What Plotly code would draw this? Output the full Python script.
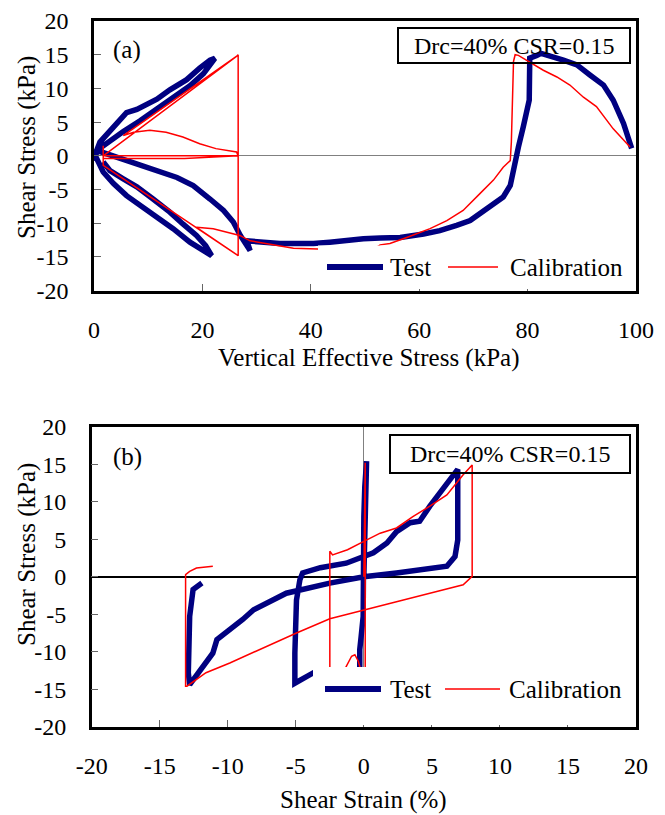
import plotly.graph_objects as go

W, H = 665, 815

# ---------------- data: panel (a) stress path ----------------
a_test_sv = [99.2, 97.7, 95.8, 94.0, 91.5, 89.1, 86.6, 84.1, 82.5, 81.7, 80.4, 80.3, 79.8, 79.2, 78.3,
             77.7, 77.2, 76.8, 75.5, 73.7, 71.8, 69.4, 66.9, 63.8, 60.8, 56.5, 52.8, 49.7, 43.5,
             40.5, 34.3, 30.5, 28.2, 28.8, 27.9, 27.0, 25.7, 23.9, 21.4, 18.3, 15.3, 11.6, 8.5,
             5.4, 2.3, 0.5,
             1.1, 2.95, 5.4, 6.0, 7.9, 9.7, 11.6, 14.0, 17.1, 19.5, 21.4, 22.3,
             21.4, 20.2, 17.7, 14.6, 11.6, 8.5, 5.4, 2.95, 1.4, 0.5, 0.2,
             0.5, 1.7, 3.6, 6.0, 9.1, 11.6, 14.6, 17.7, 20.2, 21.7,
             20.6, 18.9, 16.4, 14.0, 10.9, 7.9, 5.4, 2.95, 1.7]
a_test_tau = [1.1, 4.8, 8.25, 10.5, 12.0, 13.5, 14.2, 14.9, 15.2, 14.9, 14.5, 8.25, 6.8, 4.3, 1.3,
              -1.2, -2.6, -4.4, -6.1, -7.1, -8.4, -9.6, -10.3, -11.1, -11.6, -12.1, -12.2, -12.3, -12.8,
              -13.0, -13.0, -12.7, -12.6, -14.05, -13.05, -11.8, -9.8, -8.1, -6.4, -4.4, -3.2, -2.2, -1.4,
              -0.7, 0.3, 0.8,
              2.05, 3.6, 5.9, 6.4, 6.9, 7.6, 8.4, 9.8, 11.3, 13.0, 14.2, 14.45,
              13.5, 12.2, 10.4, 8.6, 6.9, 5.2, 3.6, 2.3, 1.5, 0.8, -0.7,
              -0.4, -2.4, -4.1, -5.9, -7.6, -9.1, -10.8, -12.8, -14.05, -14.8,
              -13.3, -11.8, -10.1, -8.35, -6.4, -4.6, -3.4, -2.2, -0.9]

a_cal_sv = [98.9, 95.8, 92.7, 90.3, 87.8, 85.4, 82.9, 80.4, 78.3, 77.7, 77.4, 77.0, 76.8, 75.5,
            73.7, 71.2, 68.1, 65.1, 62.0, 57.7, 54.6, 52.8, 52.0, 47.0, 41.3, 36.8, 32.5, 28.8,
            26.9, 22.0, 18.9, 26.6, 26.6, 26.3, 22.5, 19.5, 16.4, 13.3, 10.3, 7.3, 5.4,
            26.6, 26.6, 1.7, 1.7, 1.7, 26.6, 26.6, 16.7, 1.7, 1.7, 26.6, 26.6, 1.7]
a_cal_tau = [1.3, 4.0, 7.3, 8.7, 10.5, 11.7, 12.7, 13.9, 14.9, 15.0, 14.0, 2.0, -0.7, -1.7,
             -3.6, -5.6, -8.1, -9.6, -10.8, -12.1, -13.0, -13.2, -13.6, -13.7, -13.8, -13.7, -13.05, -12.6,
             -11.8, -10.8, -10.6, -14.8, 0.0, 0.57, 1.07, 1.8, 2.8, 3.5, 3.8, 3.5, 3.0,
             14.95, 0.0, 0.0, 1.5, -1.4, -14.8, 0.0, -0.4, -0.4, 0.0, 14.95, 0.0, 0.0]

# ---------------- data: panel (b) stress-strain ----------------
b_test_strain = [0.0, 0.05, 0.1, 0.07, 0.15, 0.2, 0.15, 0.07, 0.0, -0.05, -0.05, -0.2, -0.3, -0.3,
                 -0.6, -2.0, -3.7, -5.07, -5.07, -4.95, -4.7, -4.5, -3.2, -1.3, 0.0, 0.7, 1.7,
                 2.4, 3.4, 4.1, 4.85, 5.6, 6.3, 6.9, 6.9, 6.9, 6.7, 6.1, 2.4, 0.0, -2.5, -4.2,
                 -5.7, -6.9, -8.1, -8.9, -10.1, -10.8, -11.1, -11.8, -12.8, -12.9, -12.8, -12.55, -11.9]
b_test_tau = [0.0, 5.0, 10.0, 12.0, 14.0, 15.4, 14.5, 12.0, 8.0, 2.0, -5.3, -8.0, -9.7, -12.6,
              -13.2, -13.0, -12.8, -14.2, -10.2, -3.1, -0.4, 0.5, 1.2, 1.8, 2.7, 3.2, 4.5,
              6.0, 7.2, 7.4, 9.4, 11.2, 12.7, 14.3, 12.5, 4.9, 2.7, 1.4, 0.5, 0.0, -0.85, -1.5,
              -2.2, -3.3, -4.4, -5.7, -7.5, -8.4, -10.2, -12.0, -14.4, -12.8, -5.3, -1.7, -0.85]

b_cal_strain = [0.0, 0.1, 0.1, -0.3, -0.3, -0.4, -0.66, -0.9, -1.3, -1.6, -2.5, -2.5, -2.3, -1.2,
                0.0, 1.2, 2.4, 3.6, 4.85, 6.1, 7.3, 7.9, 7.96, 7.96, 7.6, 7.3, 4.85, 2.4, 0.0,
                -2.5, -4.95, -7.4, -9.85, -11.6, -13.0, -13.1, -13.1, -12.8, -12.3, -11.1]
b_cal_tau = [0.0, 15.2, -13.0, -12.8, -12.0, -11.3, -10.4, -10.6, -12.0, -13.0, -13.2, 3.4, 2.9, 3.6,
             4.7, 5.8, 6.5, 8.0, 9.4, 10.9, 13.6, 14.9, 14.9, 0.04, -0.6, -1.07, -2.2, -3.3, -4.4,
             -5.6, -7.5, -9.5, -11.5, -12.8, -14.6, -14.6, 0.27, 0.7, 1.15, 1.4]

# tick labels
a_x_vals = [0, 20, 40, 60, 80, 100]
a_x_text = ["0", "20", "40", "60", "80", "100"]
y_vals = [-20, -15, -10, -5, 0, 5, 10, 15, 20]
y_text = ["-20", "-15", "-10", "-5", "0", "5", "10", "15", "20"]
b_x_vals = [-20, -15, -10, -5, 0, 5, 10, 15, 20]
b_x_text = ["-20", "-15", "-10", "-5", "0", "5", "10", "15", "20"]

NAVY = "#000080"
RED = "#FF0000"
FONT = "'Liberation Serif', 'Times New Roman', serif"


def px(x):
    return x / W


def py(y):
    return 1 - y / H


fig = go.Figure()
fig.add_trace(go.Scatter(x=a_test_sv, y=a_test_tau, mode="lines", name="Test",
                         line=dict(color=NAVY, width=5.5), xaxis="x", yaxis="y", showlegend=False))
fig.add_trace(go.Scatter(x=a_cal_sv, y=a_cal_tau, mode="lines", name="Calibration",
                         line=dict(color=RED, width=1.5), xaxis="x", yaxis="y", showlegend=False))
fig.add_trace(go.Scatter(x=b_test_strain, y=b_test_tau, mode="lines", name="Test",
                         line=dict(color=NAVY, width=5.5), xaxis="x2", yaxis="y2", showlegend=False))
fig.add_trace(go.Scatter(x=b_cal_strain, y=b_cal_tau, mode="lines", name="Calibration",
                         line=dict(color=RED, width=1.5), xaxis="x2", yaxis="y2", showlegend=False))

tickfont = dict(family=FONT, size=24, color="black")
common = dict(showline=True, mirror=True, linecolor="black", linewidth=2.5, ticks="inside",
              ticklen=7, tickcolor="#666666", tickwidth=1, showgrid=False, tickfont=tickfont,
              automargin=False)

fig.update_layout(
    width=W, height=H, margin=dict(l=0, r=0, t=0, b=0, autoexpand=False),
    font=dict(family=FONT, color="black"),
    paper_bgcolor="white", plot_bgcolor="white", showlegend=False,
    xaxis=dict(domain=[px(94), px(636)], range=[0, 100], tickvals=a_x_vals, ticktext=a_x_text,
               zeroline=False, anchor="y", ticklabelstandoff=16, **common),
    yaxis=dict(domain=[py(290.7), py(21)], range=[-20, 20], tickvals=y_vals, ticktext=y_text,
               zeroline=True, zerolinecolor="#808080", zerolinewidth=1, anchor="x",
               ticklabelstandoff=18, **common),
    xaxis2=dict(domain=[px(91.7), px(636)], range=[-20, 20], tickvals=b_x_vals, ticktext=b_x_text,
                zeroline=True, zerolinecolor="#808080", zerolinewidth=1, anchor="y2",
                ticklabelstandoff=16, **common),
    yaxis2=dict(domain=[py(726.7), py(426.7)], range=[-20, 20], tickvals=y_vals, ticktext=y_text,
                zeroline=True, zerolinecolor="black", zerolinewidth=2, anchor="x2",
                ticklabelstandoff=18, **common),
)

shapes = []
annotations = []


def text(x, y, s, size=25, angle=0, xanchor="center"):
    annotations.append(dict(xref="paper", yref="paper", x=px(x), y=py(y), text=s, showarrow=False,
                            textangle=angle, xanchor=xanchor, yanchor="middle",
                            font=dict(family=FONT, size=size, color="black")))


# axis titles
text(27, 148, "Shear Stress (kPa)", angle=-90)
text(27, 555, "Shear Stress (kPa)", angle=-90)
text(369, 358, "Vertical Effective Stress (kPa)")
text(363, 800, "Shear Strain (%)")

# panel labels
text(127, 50, "(a)")
text(127, 457, "(b)")

# info boxes
for (x0, y0, x1, y1) in [(398, 28, 630, 63), (390, 435, 630, 473)]:
    shapes.append(dict(type="rect", xref="paper", yref="paper", x0=px(x0), x1=px(x1), y0=py(y1), y1=py(y0),
                       line=dict(color="black", width=2), fillcolor="rgba(0,0,0,0)", layer="above"))
    text((x0 + x1) / 2, (y0 + y1) / 2, "Drc=40% CSR=0.15", size=24)

# custom legends
for (bx0, by0, bx1, by1, ly, t0, t1, c0, c1, tx, cx) in [
    (318, 245.5, 633, 289, 267, 327, 383, 448, 498, 388, 508),
    (313, 667, 633, 725, 689, 325, 381, 445, 500, 388, 507),
]:
    shapes.append(dict(type="rect", xref="paper", yref="paper", x0=px(bx0), x1=px(bx1), y0=py(by1), y1=py(by0),
                       line=dict(width=0), fillcolor="white", layer="above"))
    shapes.append(dict(type="line", xref="paper", yref="paper", x0=px(t0), x1=px(t1), y0=py(ly), y1=py(ly),
                       line=dict(color=NAVY, width=6), layer="above"))
    shapes.append(dict(type="line", xref="paper", yref="paper", x0=px(c0), x1=px(c1), y0=py(ly), y1=py(ly),
                       line=dict(color=RED, width=1.5), layer="above"))
    text(tx, ly, "Test", size=25, xanchor="left")
    text(cx, ly, "Calibration", size=25, xanchor="left")

fig.update_layout(shapes=shapes, annotations=annotations)
fig.write_html("out.html")
